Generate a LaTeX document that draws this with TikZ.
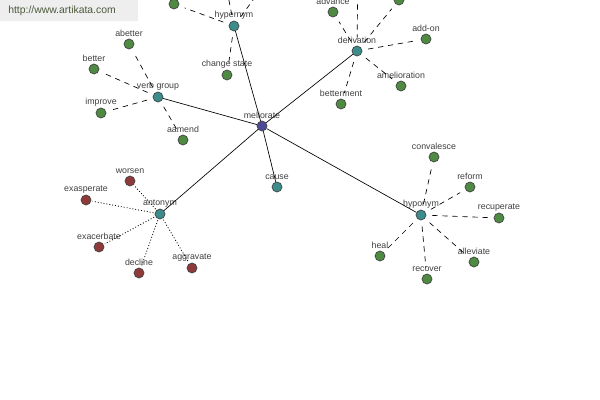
\documentclass[tikz,border=0pt]{standalone}
\usepackage{fontspec}
\setmainfont{Liberation Sans}
\begin{document}
\begin{tikzpicture}[x=0.75pt,y=-0.75pt,
  base/.style={circle,draw=black!75,line width=0.5pt,minimum size=7.5pt,inner sep=0pt},
  leaf/.style={base,fill=leafgreen},
  anto/.style={base,fill=antored},
  cat/.style={base,fill=catteal},
  root/.style={base,fill=rootblue},
  lab/.style={font=\fontsize{6.6}{7}\selectfont,text=black!75,inner sep=1pt},
  rel/.style={line width=0.5pt,black},
  dsh/.style={line width=0.5pt,black,dash pattern=on 4pt off 3.5pt,shorten <=4.5pt,shorten >=4.5pt},
  dot/.style={line width=0.6pt,black,dash pattern=on 0.7pt off 1.5pt,shorten <=1pt,shorten >=1pt},
  every label/.style={lab,label distance=0pt}
]
\definecolor{leafgreen}{HTML}{4E8A42}
\definecolor{antored}{HTML}{8E3A3A}
\definecolor{catteal}{HTML}{3C8C8C}
\definecolor{rootblue}{HTML}{4A4A96}
\definecolor{wmgray}{HTML}{EEEEEE}
\definecolor{wmtext}{HTML}{4A5A3A}
\useasboundingbox (0,0) rectangle (600,400);
\clip (0,0) rectangle (600,400);
\fill[white] (0,0) rectangle (600,400);

% main nodes
\node[root,label={above:meliorate}] (mel) at (262,126) {};
\node[cat,label={above:verb group}] (vg) at (158,97) {};
\node[cat,label={above:hypernym}] (hyper) at (234,26) {};
\node[cat,label={above:derivation}] (der) at (357,51) {};
\node[cat,label={above:cause}] (cause) at (277,187) {};
\node[cat,label={above:antonym}] (ant) at (160,214) {};
\node[cat,label={above:hyponym}] (hypo) at (421,215) {};

% verb group leaves
\node[leaf,label={above:abetter}] (abetter) at (129,44) {};
\node[leaf,label={above:better}] (better) at (94,69) {};
\node[leaf,label={above:improve}] (improve) at (101,113) {};
\node[leaf,label={above:aamend}] (aamend) at (183,140) {};

% hypernym leaves
\node[leaf,label={above:change state}] (chst) at (227,75) {};
\node[leaf] (hl1) at (174,4) {};
\coordinate (hu1) at (222,-35);
\coordinate (hu2) at (275,-30);

% derivation leaves
\node[leaf,label={above:advance}] (advance) at (333,12) {};
\node[leaf] (dl1) at (399,0) {};
\coordinate (du1) at (358,-35);
\node[leaf,label={above:add-on}] (addon) at (426,39) {};
\node[leaf,label={above:amelioration}] (amel) at (401,86) {};
\node[leaf,label={above:betterment}] (betterment) at (341,104) {};

% antonym leaves
\node[anto,label={above:worsen}] (worsen) at (130,181) {};
\node[anto,label={above:exasperate}] (exasp) at (86,200) {};
\node[anto,label={above:exacerbate}] (exacer) at (99,247) {};
\node[anto,label={above:decline}] (decline) at (139,273) {};
\node[anto,label={above:aggravate}] (aggr) at (192,268) {};

% hyponym leaves
\node[leaf,label={above:convalesce}] (conv) at (434,157) {};
\node[leaf,label={above:reform}] (reform) at (470,187) {};
\node[leaf,label={above:recuperate}] (recup) at (499,218) {};
\node[leaf,label={above:alleviate}] (allev) at (474,262) {};
\node[leaf,label={above:recover}] (recover) at (427,279) {};
\node[leaf,label={above:heal}] (heal) at (380,256) {};

% solid relations
\draw[rel] (mel) -- (vg);
\draw[rel] (mel) -- (hyper);
\draw[rel] (mel) -- (der);
\draw[rel] (mel) -- (cause);
\draw[rel] (mel) -- (ant);
\draw[rel] (mel) -- (hypo);

% dashed
\draw[dsh] (vg) -- (abetter);
\draw[dsh] (vg) -- (better);
\draw[dsh] (vg) -- (improve);
\draw[dsh] (vg) -- (aamend);
\draw[dsh] (hyper) -- (chst);
\draw[dsh] (hyper) -- (hl1);
\draw[dsh] (hyper) -- (hu1);
\draw[dsh] (hyper) -- (hu2);
\draw[dsh] (der) -- (advance);
\draw[dsh] (der) -- (dl1);
\draw[dsh] (der) -- (du1);
\draw[dsh] (der) -- (addon);
\draw[dsh] (der) -- (amel);
\draw[dsh] (der) -- (betterment);
\draw[dsh] (hypo) -- (conv);
\draw[dsh] (hypo) -- (reform);
\draw[dsh] (hypo) -- (recup);
\draw[dsh] (hypo) -- (allev);
\draw[dsh] (hypo) -- (recover);
\draw[dsh] (hypo) -- (heal);

% dotted
\draw[dot] (ant) -- (worsen);
\draw[dot] (ant) -- (exasp);
\draw[dot] (ant) -- (exacer);
\draw[dot] (ant) -- (decline);
\draw[dot] (ant) -- (aggr);

% watermark
\fill[wmgray] (0,0) rectangle (138,21);
\node[anchor=west,font=\fontsize{7.8}{9}\selectfont,text=wmtext,inner sep=0pt] (wm) at (8,11) {http://www.artikata.com};
\end{tikzpicture}
\end{document}
